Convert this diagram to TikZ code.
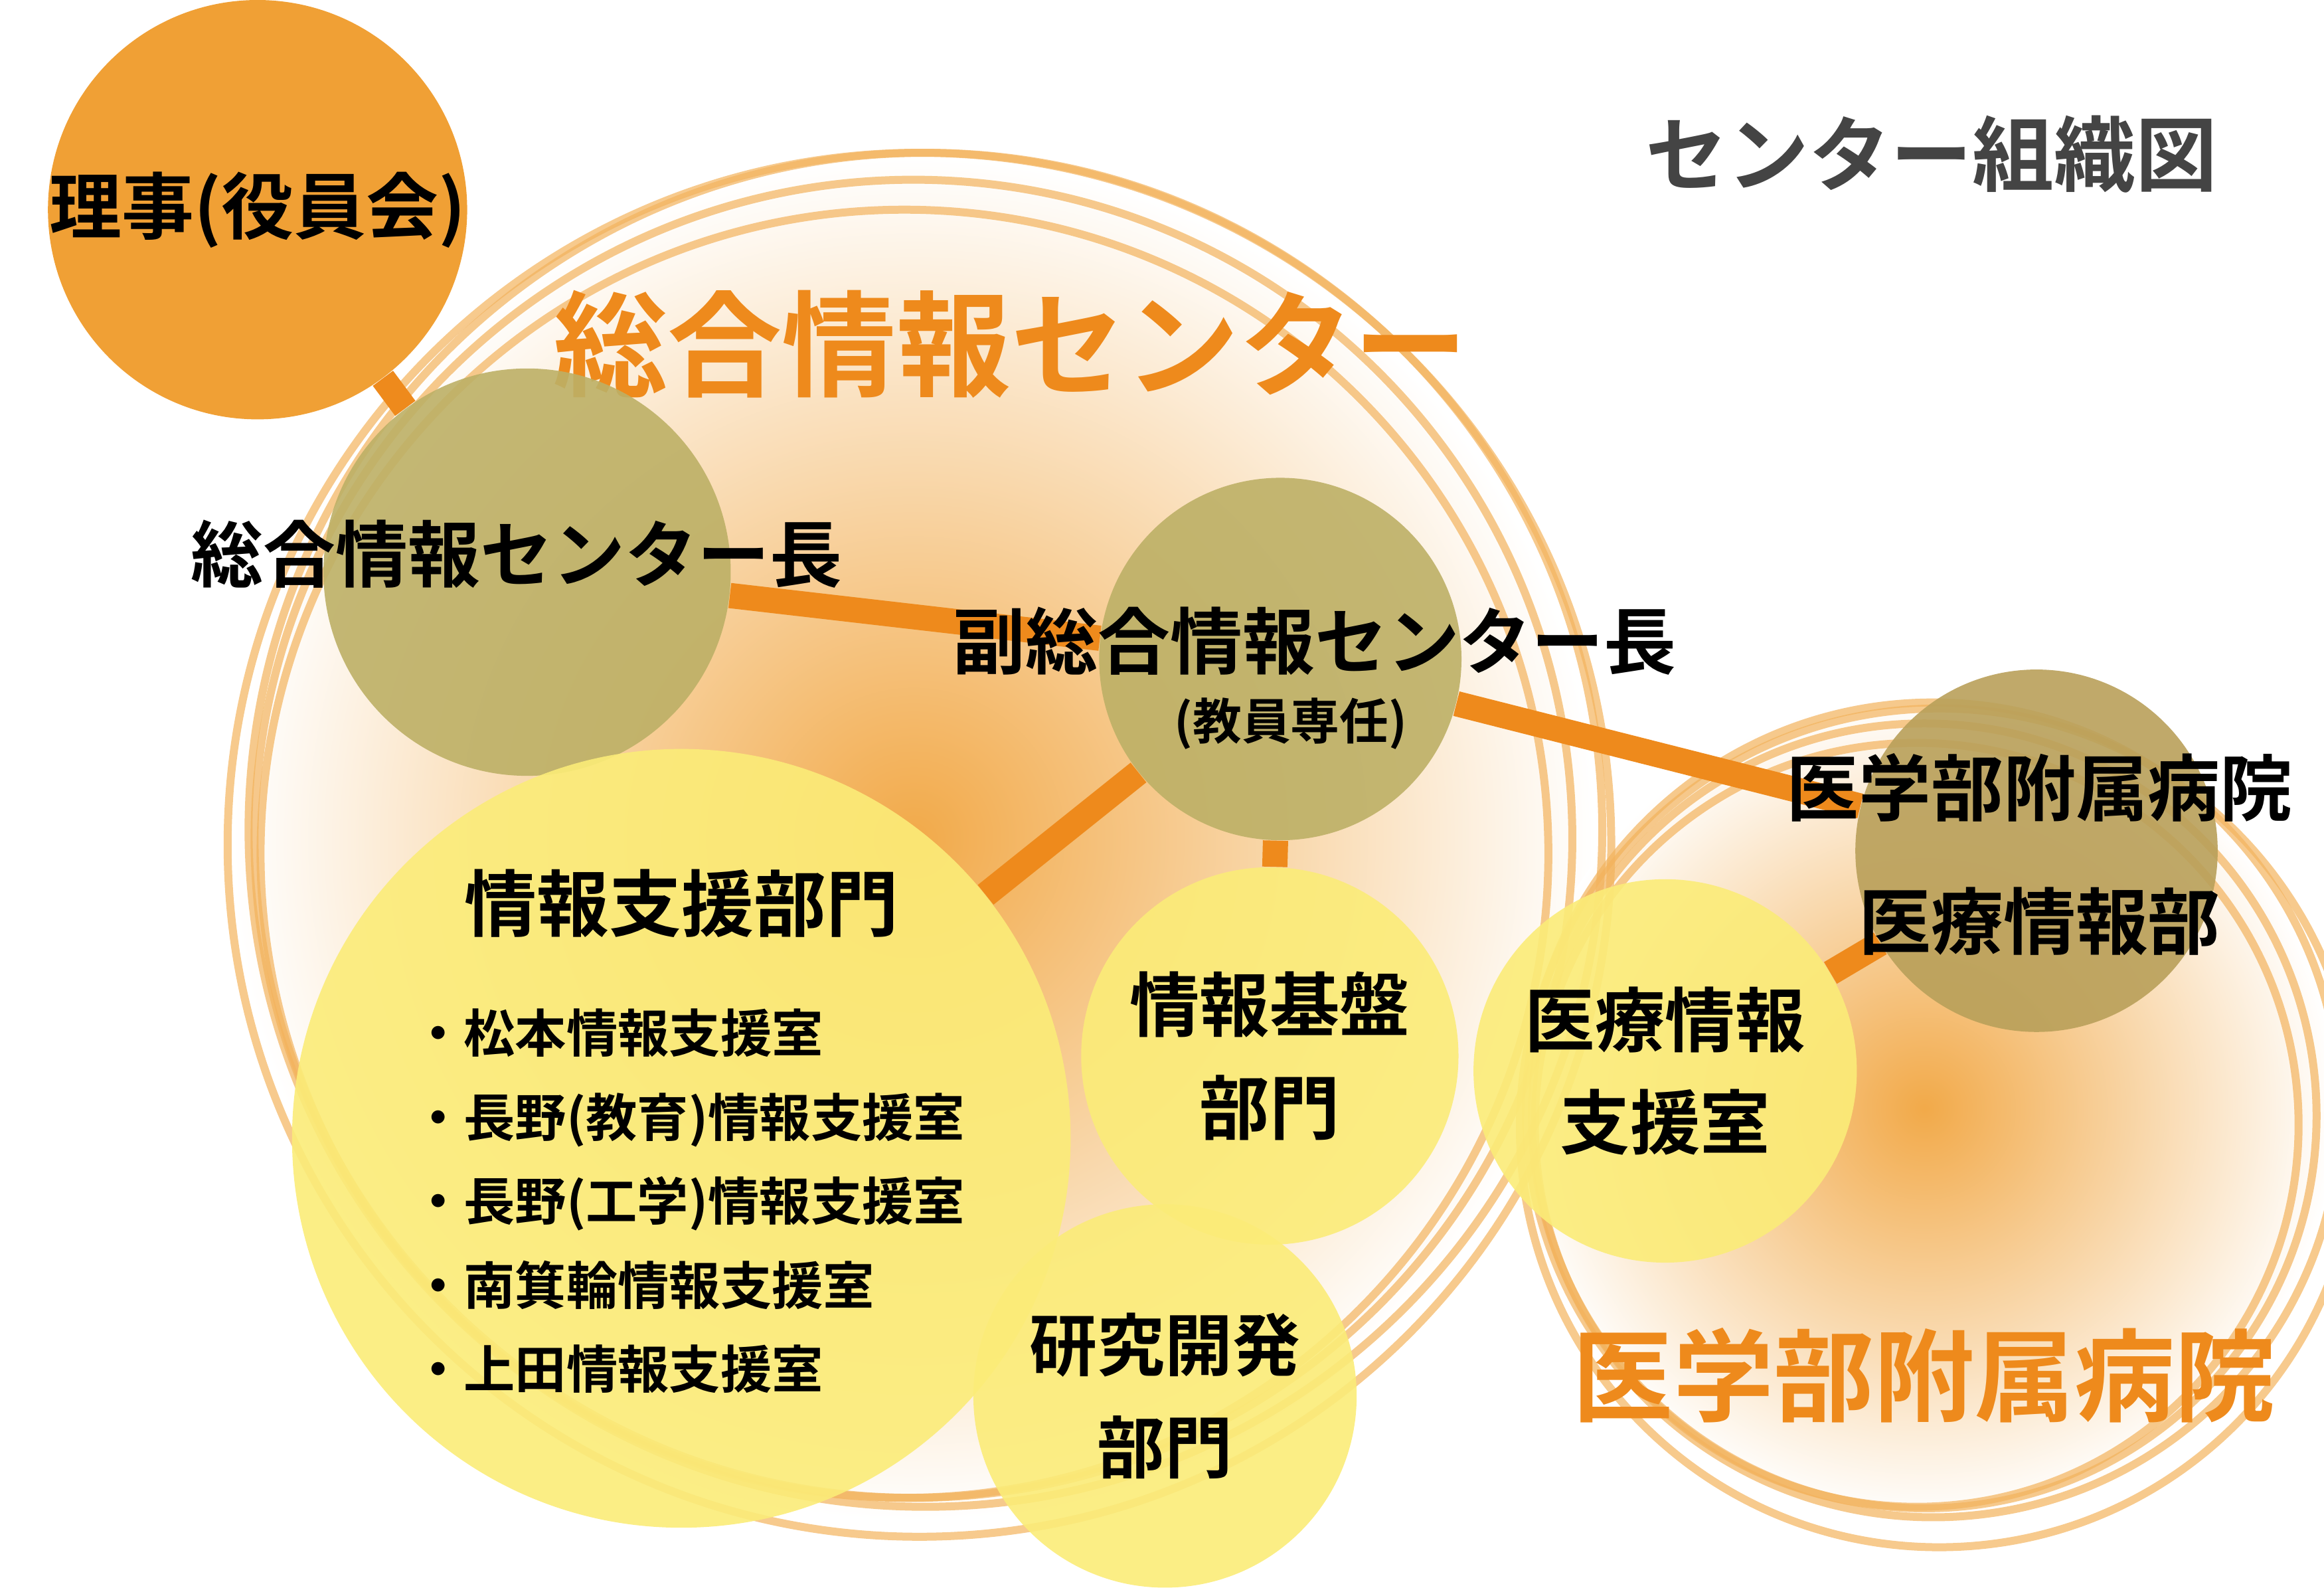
\documentclass[tikz,border=0pt]{standalone}
\usepackage{fontspec}
\setmainfont{Noto Sans CJK JP}[BoldFont={* Bold}]
\usetikzlibrary{positioning}
\pgfdeclarelayer{back}
\pgfdeclarelayer{links}
\pgfsetlayers{back,links,main}
\definecolor{orangeA}{HTML}{F0A035}
\definecolor{orangeT}{HTML}{EE8A1C}
\definecolor{olive}{HTML}{BDB066}
\definecolor{oliveD}{HTML}{B9A05A}
\definecolor{yell}{HTML}{FBEC78}
\definecolor{titlegray}{HTML}{444444}
\tikzset{
	unit/.style={circle,inner sep=0pt,minimum size=#1*0.6416pt,fill opacity=0.9},
	head/.style={unit=#1,fill=olive},
	dept/.style={unit=#1,fill=yell},
	link/.style={orangeT,line width=0.38cm},
	rough/.style={draw=orangeA!80,line width=0.12cm,opacity=0.7},
	lbl/.style={font=\bfseries\fontsize{31}{36}\selectfont,align=center,text=black},
}
\begin{document}
\begin{tikzpicture}[x=0.02255cm,y=-0.02255cm]
	\useasboundingbox (0,0) rectangle (1552,1064);
	% background circles
	\begin{pgfonlayer}{back}
		\shade[inner color=orangeA!90,outer color=white] (610,560) circle (455);
		\shade[inner color=orangeA!90,outer color=white] (1285,740) circle (275);
		\foreach \dx/\dy/\r in {0/0/440,8/-6/452,-6/10/430,4/4/462}
			\draw[rough] (610+\dx,560+\dy) circle (\r);
		\foreach \dx/\dy/\r in {0/0/262,6/-4/272,-5/6/255,10/8/280}
			\draw[rough] (1285+\dx,745+\dy) circle (\r);
	\end{pgfonlayer}
	% titles
	\node[font=\bfseries\fontsize{35}{40}\selectfont,text=titlegray] (title) at (1290,103) {センター組織図};
	\node[font=\bfseries\fontsize{49}{54}\selectfont,text=orangeT] (center) at (675,230) {総合情報センター};
	\node[font=\bfseries\fontsize{43}{50}\selectfont,text=orangeT] (hosp) at (1285,918) {医学部附属病院};
	% units
	\node[unit=280,fill=orangeA,fill opacity=1] (board) at (172,140) {};
	\node[head=272] (chief) at (352,382) {};
	\node[head=242] (vice) at (855,440) {};
	\node[head=242,fill=oliveD] (hhead) at (1360,568) {};
	\node[dept=520] (support) at (455,760) {};
	\node[dept=252] (infra) at (848,705) {};
	\node[dept=256] (rnd) at (778,932) {};
	\node[dept=256] (medsup) at (1112,715) {};
	% labels
	\node[lbl] at (board.center) {理事(役員会)};
	\node[lbl] at (345,370) {総合情報センター長};
	\node[lbl] at (878,428) {副総合情報センター長};
	\node[lbl,font=\bfseries\fontsize{21}{24}\selectfont] at (862,483) {(教員専任)};
	\node[lbl] at (1362,526) {医学部附属病院};
	\node[lbl] at (1362,615) {医療情報部};
	\node[lbl] at (455,603) {情報支援部門};
	\node[lbl,font=\bfseries\fontsize{22}{36}\selectfont,align=left,anchor=north west] at (270,668)
		{・松本情報支援室\\・長野(教育)情報支援室\\・長野(工学)情報支援室\\・南箕輪情報支援室\\・上田情報支援室};
	\node[lbl,font=\bfseries\fontsize{30}{44}\selectfont] at (infra.center) {情報基盤\\部門};
	\node[lbl,font=\bfseries\fontsize{29}{44}\selectfont] at (rnd.center) {研究開発\\部門};
	\node[lbl,font=\bfseries\fontsize{30}{44}\selectfont] at (medsup.center) {医療情報\\支援室};
	% links
	\begin{pgfonlayer}{links}
		\draw[link] (board) -- (chief);
		\draw[link] (chief) -- (vice);
		\draw[link] (vice) -- (hhead);
		\draw[link] (vice) -- (support);
		\draw[link] (vice) -- (infra);
		\draw[link] (hhead) -- (medsup);
	\end{pgfonlayer}
\end{tikzpicture}
\end{document}
